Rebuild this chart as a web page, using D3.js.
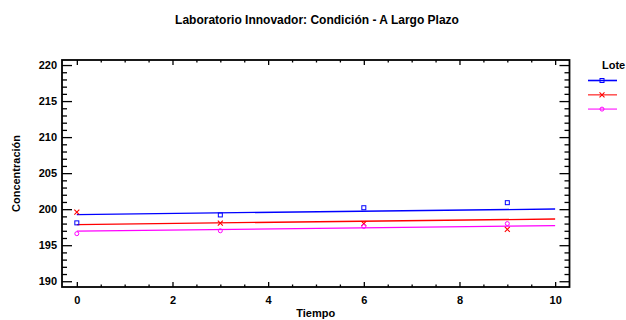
<!DOCTYPE html>
<html>
<head>
<meta charset="utf-8">
<script src="https://cdn.jsdelivr.net/npm/d3@7"></script>
<style>
  body { margin: 0; background: #fff; }
  text { font-family: "Liberation Sans", Arial, sans-serif; font-weight: bold; }
</style>
</head>
<body>
<svg id="chart"></svg>
<script>
const width = 626;
const height = 320;

// datos
const tiempo = [0, 3, 6, 9];
const lotes = ['1', '2', '3'];
const lote1 = [198.1, 199.2, 200.2, 200.9];
const lote2 = [199.6, 198.05, 198.0, 197.2];
const lote3 = [196.6, 197.0, 197.6, 198.0];
const colores = ['#0000ff', '#ff0000', '#ff00ff'];
const yTicks = [190, 195, 200, 205, 210, 215, 220];
const xTicks = [0, 2, 4, 6, 8, 10];

const series = [lote1, lote2, lote3];

const svg = d3.select('#chart')
  .attr('width', width)
  .attr('height', height);

const mLeft = 62, mRight = 569.5, mTop = 60, mBottom = 287;

const x = d3.scaleLinear().domain([-0.31, 10.3]).range([mLeft, mRight]);
const y = d3.scaleLinear().domain([189.2, 220.7]).range([mBottom, mTop]);

// pendiente común (modelo de pendientes iguales)
const mx = d3.mean(tiempo);
let sxy = 0, sxx = 0;
series.forEach(s => {
  const my = d3.mean(s);
  tiempo.forEach((t, i) => {
    sxy += (t - mx) * (s[i] - my);
    sxx += (t - mx) * (t - mx);
  });
});
const pendiente = sxy / sxx;
const ajustes = series.map(s => ({ b0: d3.mean(s) - pendiente * mx }));

// titulo
svg.append('text')
  .attr('x', 317)
  .attr('y', 24)
  .attr('text-anchor', 'middle')
  .attr('font-size', 12)
  .text('Laboratorio Innovador: Condición - A Largo Plazo');

// ejes
const yMinor = d3.range(190, 221, 1).filter(v => v % 5 !== 0);
const xMinor = d3.range(0, 10.01, 0.5).filter(v => v % 2 !== 0);

function ejes(g) {
  g.selectAll('.domain').remove();
  g.selectAll('line').attr('stroke', '#000').attr('stroke-width', 1.3);
  g.selectAll('text').attr('fill', '#000').attr('font-size', 11);
}

svg.append('g')
  .attr('transform', `translate(${mLeft},0)`)
  .call(d3.axisLeft(y).tickValues(yTicks).tickSize(-10).tickPadding(5))
  .call(ejes);
svg.append('g')
  .attr('transform', `translate(${mLeft},0)`)
  .call(d3.axisLeft(y).tickValues(yMinor).tickSize(-5).tickFormat(''))
  .call(ejes);
svg.append('g')
  .attr('transform', `translate(${mRight},0)`)
  .call(d3.axisRight(y).tickValues(yTicks).tickSize(-10).tickFormat(''))
  .call(ejes);
svg.append('g')
  .attr('transform', `translate(${mRight},0)`)
  .call(d3.axisRight(y).tickValues(yMinor).tickSize(-5).tickFormat(''))
  .call(ejes);

svg.append('g')
  .attr('transform', `translate(0,${mBottom})`)
  .call(d3.axisBottom(x).tickValues(xTicks).tickSize(-5).tickPadding(9))
  .call(ejes);
svg.append('g')
  .attr('transform', `translate(0,${mBottom})`)
  .call(d3.axisBottom(x).tickValues(xMinor).tickSize(-2.5).tickFormat(''))
  .call(ejes);
svg.append('g')
  .attr('transform', `translate(0,${mTop})`)
  .call(d3.axisTop(x).tickValues(xTicks).tickSize(-5).tickFormat(''))
  .call(ejes);
svg.append('g')
  .attr('transform', `translate(0,${mTop})`)
  .call(d3.axisTop(x).tickValues(xMinor).tickSize(-2.5).tickFormat(''))
  .call(ejes);

svg.append('rect')
  .attr('x', mLeft)
  .attr('y', mTop)
  .attr('width', mRight - mLeft)
  .attr('height', mBottom - mTop)
  .attr('fill', 'none')
  .attr('stroke', '#000')
  .attr('stroke-width', 1.8);

// etiquetas de ejes
svg.append('text')
  .attr('x', (mLeft + mRight) / 2)
  .attr('y', 317)
  .attr('text-anchor', 'middle')
  .attr('font-size', 11)
  .text('Tiempo');

svg.append('text')
  .attr('transform', `translate(20,${(mTop + mBottom) / 2}) rotate(-90)`)
  .attr('text-anchor', 'middle')
  .attr('font-size', 11)
  .text('Concentración');

// rectas ajustadas
const linea = d3.line().x(d => x(d[0])).y(d => y(d[1]));
ajustes.forEach((a, i) => {
  svg.append('path')
    .attr('d', linea([[0, a.b0], [10, a.b0 + pendiente * 10]]))
    .attr('fill', 'none')
    .attr('stroke', colores[i])
    .attr('stroke-width', 1.3);
});

// marcadores
function marcador(g, tipo, color) {
  if (tipo === 0) {
    g.append('rect').attr('x', -2).attr('y', -2).attr('width', 4).attr('height', 4)
      .attr('fill', 'none').attr('stroke', color).attr('stroke-width', 1);
  } else if (tipo === 1) {
    g.append('path').attr('d', 'M-2.5,-2.5L2.5,2.5M-2.5,2.5L2.5,-2.5')
      .attr('stroke', color).attr('stroke-width', 1.1);
  } else {
    g.append('circle').attr('r', 2).attr('fill', 'none')
      .attr('stroke', color).attr('stroke-width', 1);
  }
}

series.forEach((s, i) => {
  svg.append('g').selectAll('g')
    .data(s)
    .enter().append('g')
    .attr('transform', (d, j) => `translate(${x(tiempo[j])},${y(d)})`)
    .each(function () { marcador(d3.select(this), i, colores[i]); });
});

// leyenda
const leyenda = svg.append('g').attr('transform', 'translate(588,0)');
leyenda.append('text')
  .attr('x', 14)
  .attr('y', 69)
  .attr('font-size', 11)
  .text('Lote');
lotes.forEach((l, i) => {
  const ly = 80.5 + i * 14.3;
  leyenda.append('line')
    .attr('x1', 0).attr('x2', 29)
    .attr('y1', ly).attr('y2', ly)
    .attr('stroke', colores[i])
    .attr('stroke-opacity', i === 0 ? 1 : 0.65)
    .attr('stroke-width', 1.6);
  const g = leyenda.append('g').attr('transform', `translate(14,${ly})`);
  marcador(g, i, colores[i]);
});
</script>
</body>
</html>
